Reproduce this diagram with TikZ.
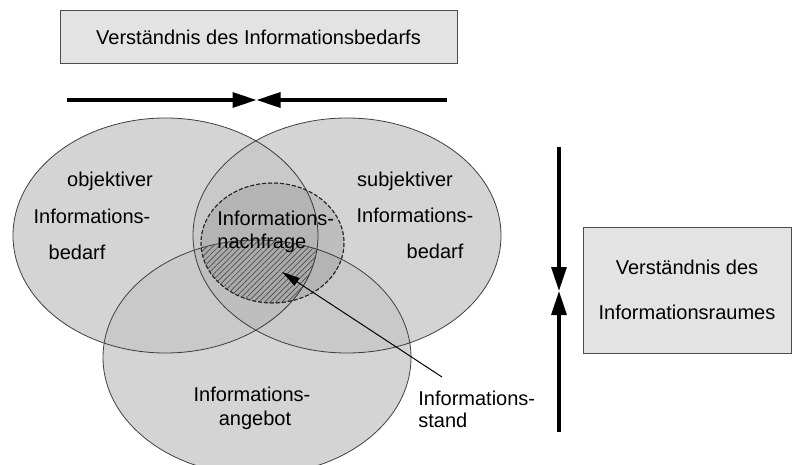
\documentclass[tikz,border=0pt]{standalone}
\usepackage{fontspec}
\setmainfont{Liberation Sans}
\usetikzlibrary{arrows.meta, patterns.meta}

\tikzset{
  venngrund/.style={fill=black!12},
  venn/.style={draw=black!75, line width=0.4pt, fill=black, fill opacity=0.05},
  txt/.style={font=\fontsize{10}{12}\selectfont, inner sep=0pt},
  infobox/.style={txt, draw=black!70, line width=0.5pt, fill=gray!22, align=center},
  bigarrow/.style={line width=1.6pt, -{Triangle[length=12pt, width=7.5pt]}},
  thinarrow/.style={line width=0.5pt, -{Triangle[length=9pt, width=4.5pt]}}
}

\begin{document}
\begin{tikzpicture}[x=0.5pt, y=-0.5pt]
    \useasboundingbox (0,0) rectangle (792,465);
    % Kreise
    \fill[venngrund] (165.5,235.5) ellipse [x radius=152.5, y radius=117.5]
                     (347,235.5) ellipse [x radius=154, y radius=117.5]
                     (257,357.5) ellipse [x radius=154, y radius=117.5];
    \draw[venn] (165.5,235.5) ellipse [x radius=152.5, y radius=117.5];
    \draw[venn] (347,235.5) ellipse [x radius=154, y radius=117.5];
    \draw[venn] (257,357.5) ellipse [x radius=154, y radius=117.5];
    \draw[venn, fill opacity=0.1, dash pattern=on 2pt off 1pt] (272.5,243) ellipse [x radius=71.5, y radius=60];
    % Informationsstand
    \begin{scope}
      \clip (272.5,243) ellipse [x radius=71.5, y radius=60];
      \clip (257,357.5) ellipse [x radius=154, y radius=117.5];
      \clip (165.5,235.5) ellipse [x radius=152.5, y radius=117.5];
      \fill[pattern={Lines[angle=45, distance=2pt, line width=0.35pt]}, pattern color=black!70]
        (190,170) rectangle (360,310);
    \end{scope}
    \draw[black!85, line width=0.5pt, dash pattern=on 2pt off 1pt] (272.5,243) ellipse [x radius=71.5, y radius=60];

    \node[txt, anchor=base] (obj1) at (110,186) {objektiver};
    \node[txt, anchor=base] (obj2) at (92,223) {Informations-};
    \node[txt, anchor=base] (obj3) at (77,259) {bedarf};
    \node[txt, anchor=base] (subj1) at (405,186) {subjektiver};
    \node[txt, anchor=base] (subj2) at (415,222) {Informations-};
    \node[txt, anchor=base] (subj3) at (435,258) {bedarf};
    \node[txt, anchor=base west] (nach1) at (217,225) {Informations-};
    \node[txt, anchor=base west] (nach2) at (217,248) {nachfrage};
    \node[txt, anchor=base] (ang1) at (252,401) {Informations-};
    \node[txt, anchor=base] (ang2) at (255,425) {angebot};
    \node[txt, anchor=base west] (stand1) at (418,405) {Informations-};
    \node[txt, anchor=base west] (stand2) at (418,427) {stand};

    \node[infobox, minimum width=198.5pt, minimum height=26.5pt] (bedarf) at (258.5,37.5)
      {Verständnis des Informationsbedarfs};
    \node[infobox, minimum width=104pt, minimum height=63pt] (raum) at (687,290)
      {Verständnis des\\[10.5pt]Informationsraumes};

    \coordinate (hl) at (67,100);
    \coordinate (hm) at (256.5,100);
    \coordinate (hr) at (447,100);
    \coordinate (vt) at (559,147);
    \coordinate (vm) at (559,291);
    \coordinate (vb) at (559,432);
    \coordinate (standfuss) at (442,377);
    \coordinate (standziel) at (282,272);
    \draw[bigarrow] (hl) -- (hm);
    \draw[bigarrow] (hr) -- (hm);
    \draw[bigarrow] (vt) -- (vm);
    \draw[bigarrow] (vb) -- (vm);
    \draw[thinarrow] (standfuss) -- (standziel);
\end{tikzpicture}
\end{document}
